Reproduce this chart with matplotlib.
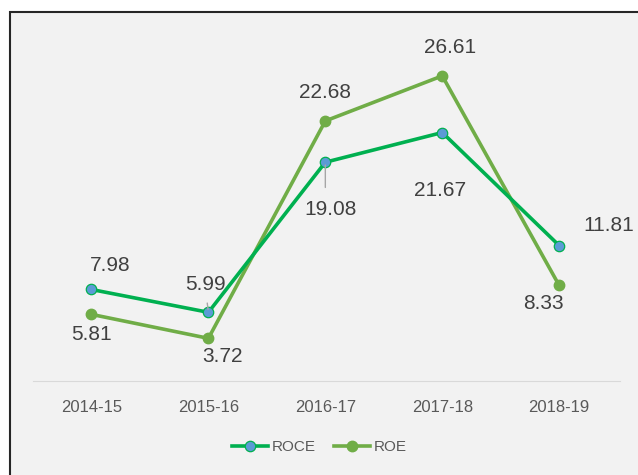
import matplotlib.pyplot as plt
from matplotlib.patches import Rectangle

years = ['2014-15', '2015-16', '2016-17', '2017-18', '2018-19']
roce = [7.98, 5.99, 19.08, 21.67, 11.81]
roe = [5.81, 3.72, 22.68, 26.61, 8.33]

# label offsets in pixels (dx, dy) from each point
roce_off = [(19, 24), (-3, 28), (5, -47), (-2, -58), (50, 20)]
roe_off = [(0, -20), (14, -18), (0, 28), (8, 28), (-16, -18)]

plt.rcParams['font.family'] = ['Liberation Sans', 'DejaVu Sans']

fig = plt.figure(figsize=(6.38, 4.75), dpi=100)
fig.patch.set_facecolor('white')
fig.patches.append(Rectangle((10 / 638, -0.1), 1.1, (463 / 475) + 0.1,
                             transform=fig.transFigure, facecolor='#f2f2f2',
                             edgecolor='#262626', linewidth=1.5, zorder=-5))

ax = fig.add_axes([33 / 638, 94 / 475, 587 / 638, 344 / 475])
ax.set_facecolor('none')
x = range(len(years))
ax.plot(x, roce, color='#00b050', lw=2.6, marker='o', ms=7.5,
        mfc='#5b9bd5', mec='#00b050', mew=0.9, label='ROCE', zorder=3)
ax.plot(x, roe, color='#70ad47', lw=2.6, marker='o', ms=7.5,
        mfc='#70ad47', mec='#70ad47', label='ROE', zorder=2)

k = 72 / 100
for i, v in enumerate(roce):
    dx, dy = roce_off[i]
    ax.annotate(f'{v:.2f}', (i, v), xytext=(dx * k, dy * k), textcoords='offset points',
                ha='center', va='center', fontsize=15, color='#404040')
for i, v in enumerate(roe):
    dx, dy = roe_off[i]
    ax.annotate(f'{v:.2f}', (i, v), xytext=(dx * k, dy * k), textcoords='offset points',
                ha='center', va='center', fontsize=15, color='#404040')

# leader lines
ax.annotate('', (1, roce[1]), xytext=(-1.5 * k, 12 * k), textcoords='offset points',
            arrowprops=dict(arrowstyle='-', color='#a6a6a6', lw=1))
ax.annotate('', (2, roce[2]), xytext=(0, -28 * k), textcoords='offset points',
            arrowprops=dict(arrowstyle='-', color='#a6a6a6', lw=1))

ax.set_xlim(-0.5, 4.52)
ax.set_ylim(0, 30)
ax.set_xticks(list(x))
ax.set_xticklabels(years, fontsize=12, color='#595959')
ax.tick_params(length=0, pad=14)
ax.set_yticks([])
for s in ['top', 'right', 'left']:
    ax.spines[s].set_visible(False)
ax.spines['bottom'].set_color('#d9d9d9')

fig.legend(loc='center', bbox_to_anchor=(0.5, 28 / 475), ncol=2, frameon=False,
           fontsize=11, labelcolor='#595959', handlelength=2.4, columnspacing=1.2,
           handletextpad=0.2)

fig.savefig('out.png', dpi=100)
